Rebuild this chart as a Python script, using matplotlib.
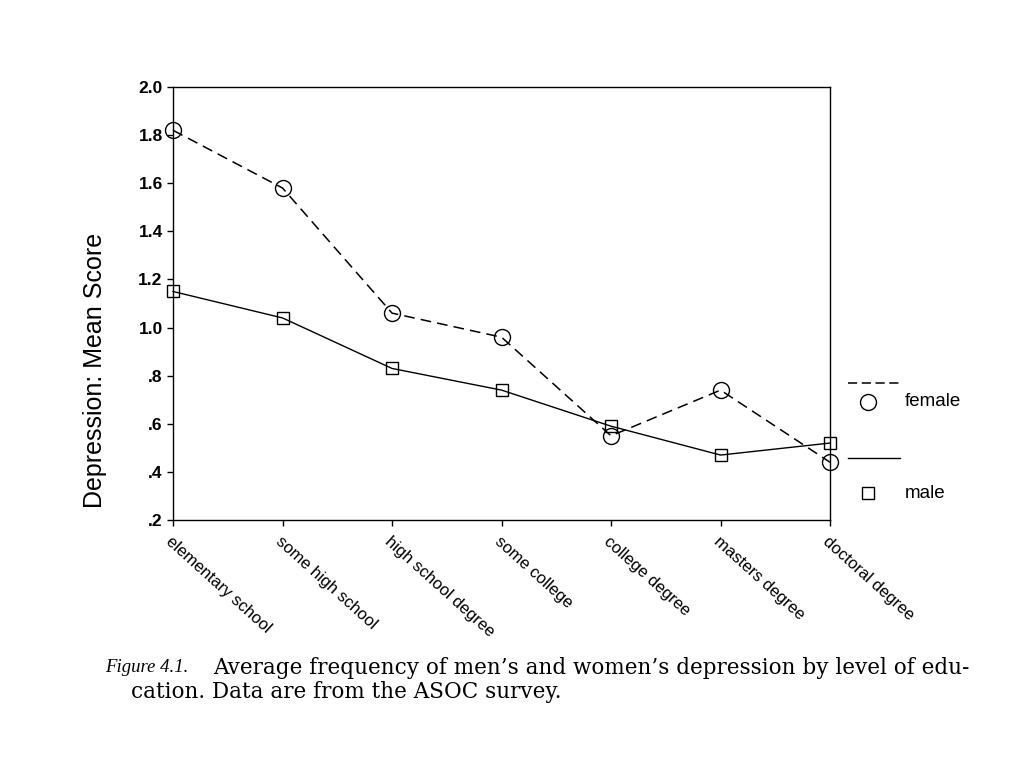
import matplotlib
matplotlib.use("Agg")
import matplotlib.pyplot as plt
from matplotlib.lines import Line2D

categories = ["elementary school", "some high school", "high school degree",
              "some college", "college degree", "masters degree", "doctoral degree"]
female = [1.82, 1.58, 1.06, 0.96, 0.55, 0.74, 0.44]
male = [1.15, 1.04, 0.83, 0.74, 0.59, 0.47, 0.52]
yticks = [0.2, 0.4, 0.6, 0.8, 1.0, 1.2, 1.4, 1.6, 1.8, 2.0]
ytick_labels = [".2", ".4", ".6", ".8", "1.0", "1.2", "1.4", "1.6", "1.8", "2.0"]

sans = ["Liberation Sans", "DejaVu Sans"]
serif = ["DejaVu Serif", "Liberation Serif"]

fig = plt.figure(figsize=(10.24, 7.68), dpi=100)
ax = fig.add_axes([0.169, 0.3229, 0.6416, 0.5638])

x = list(range(len(categories)))
ax.plot(x, female, linestyle=(0, (7, 4)), color="black", linewidth=1.1,
        marker="o", markersize=11.5, markerfacecolor="none", markeredgecolor="black",
        markeredgewidth=1.0, clip_on=False)
ax.plot(x, male, linestyle="-", color="black", linewidth=1.0,
        marker="s", markersize=8, markerfacecolor="none", markeredgecolor="black",
        markeredgewidth=1.0, clip_on=False)

ax.set_xlim(0, len(categories) - 1)
ax.set_ylim(0.2, 2.0)
ax.set_yticks(yticks)
ax.set_yticklabels(ytick_labels, fontsize=12.5, family=sans, fontweight="bold")
ax.set_xticks(x)
ax.set_xticklabels(categories, rotation=-42, ha="left", va="top",
                   rotation_mode="anchor", fontsize=12, family=sans)
ax.tick_params(axis="both", direction="out", length=4, width=1, color="black")
ax.tick_params(axis="x", pad=6)
for s in ax.spines.values():
    s.set_linewidth(1.0)
    s.set_color("black")

fig.text(0.093, 1 - 370/768, "Depression: Mean Score", rotation=90, ha="center", va="center",
         fontsize=18, family=sans)

# legend drawn outside to the right
fig.add_artist(Line2D([848/1024, 900/1024], [1-383/768, 1-383/768], linestyle=(0, (6, 3)),
                      color="black", linewidth=1.1, transform=fig.transFigure))
fig.add_artist(Line2D([868/1024], [1-402/768], marker="o", markersize=11.5,
                      markerfacecolor="none", markeredgecolor="black", linestyle="none",
                      transform=fig.transFigure))
fig.text(905/1024, 1-402/768, "female", ha="left", va="center", fontsize=13.5, family=sans)
fig.add_artist(Line2D([848/1024, 900/1024], [1-458/768, 1-458/768], linestyle="-",
                      color="black", linewidth=1.0, transform=fig.transFigure))
fig.add_artist(Line2D([868/1024], [1-493/768], marker="s", markersize=8,
                      markerfacecolor="none", markeredgecolor="black", linestyle="none",
                      transform=fig.transFigure))
fig.text(905/1024, 1-493/768, "male", ha="left", va="center", fontsize=13.5, family=sans)

# caption
fig.text(105/1024, 1-668/768, "Figure 4.1.", ha="left", va="center", fontsize=13.5,
         family=["Liberation Serif", "DejaVu Serif"], style="italic")
fig.text(213/1024, 1-668/768,
         "Average frequency of men\u2019s and women\u2019s depression by level of edu-",
         ha="left", va="center", fontsize=15.5, family=serif)
fig.text(131/1024, 1-692/768, "cation. Data are from the ASOC survey.",
         ha="left", va="center", fontsize=15.5, family=serif)

fig.savefig("out.png", dpi=100)
